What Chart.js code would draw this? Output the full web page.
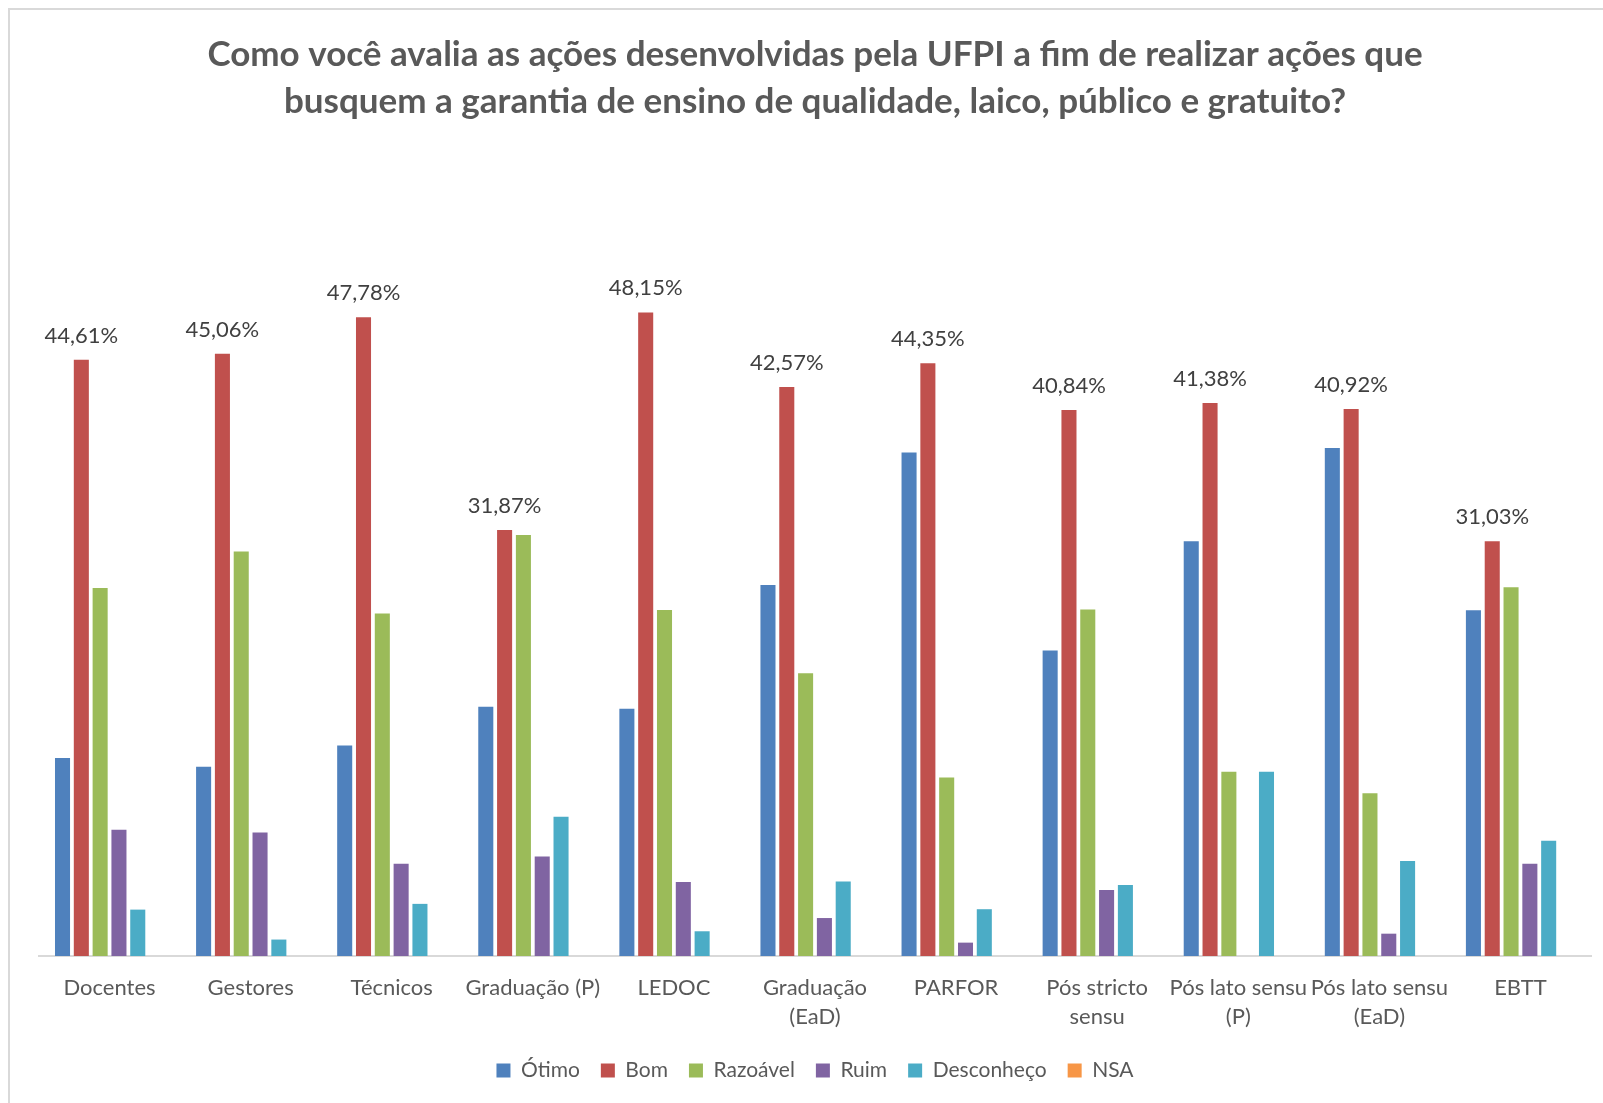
<!DOCTYPE html>
<html>
<head>
<meta charset="utf-8">
<script src="https://cdn.jsdelivr.net/npm/chart.js@4"></script>
<style>
  html, body { margin: 0; padding: 0; background: #ffffff; }
  #wrap { width: 1603px; height: 1103px; position: relative; }
  canvas { display: block; }
</style>
</head>
<body>
<div id="wrap"><canvas id="c" width="1603" height="1103"></canvas></div>
<script>
const titleLines = [
  'Como você avalia as ações desenvolvidas pela UFPI a fim de realizar ações que',
  'busquem a garantia de ensino de qualidade, laico, público e gratuito?'
];
const categories = [
  'Docentes', 'Gestores', 'Técnicos', 'Graduação (P)', 'LEDOC',
  ['Graduação', '(EaD)'], 'PARFOR', ['Pós stricto', 'sensu'],
  ['Pós lato sensu', '(P)'], ['Pós lato sensu', '(EaD)'], 'EBTT'
];
const seriesNames = ['Ótimo', 'Bom', 'Razoável', 'Ruim', 'Desconheço', 'NSA'];
const otimo      = [14.81, 14.15, 15.75, 18.65, 18.49, 27.76, 37.67, 22.86, 31.03, 38.00, 25.86];
const bom        = [44.61, 45.06, 47.78, 31.87, 48.15, 42.57, 44.35, 40.84, 41.38, 40.92, 31.03];
const razoavel   = [27.53, 30.26, 25.63, 31.50, 25.89, 21.15, 13.35, 25.93, 13.79, 12.18, 27.59];
const ruim       = [9.44, 9.24, 6.91, 7.44, 5.54, 2.84, 1.00, 4.94, 0, 1.67, 6.90];
const desconheco = [3.47, 1.23, 3.90, 10.41, 1.85, 5.57, 3.50, 5.31, 13.79, 7.11, 8.62];
const nsa        = [0, 0, 0, 0, 0, 0, 0, 0, 0, 0, 0];
const colors = ['#4F81BD', '#C0504D', '#9BBB59', '#8064A2', '#4BACC6', '#F79646'];
const allSeries = [otimo, bom, razoavel, ruim, desconheco, nsa];

const PAD_BOTTOM = 12;
const PLOT_BOTTOM = 956;

const frame = {
  id: 'frame',
  beforeDraw(chart) {
    const ctx = chart.ctx;
    ctx.save();
    ctx.fillStyle = '#ffffff';
    ctx.fillRect(0, 0, chart.width, chart.height);
    ctx.strokeStyle = '#d9d9d9';
    ctx.lineWidth = 2;
    ctx.strokeRect(9, 9, chart.width + 20, chart.height + 20);
    ctx.restore();
  }
};

const bomLabels = {
  id: 'bomLabels',
  afterDatasetsDraw(chart) {
    const ctx = chart.ctx;
    const meta = chart.getDatasetMeta(1);
    ctx.save();
    ctx.font = '22px Lato';
    ctx.fillStyle = '#404040';
    ctx.textAlign = 'center';
    ctx.textBaseline = 'alphabetic';
    meta.data.forEach((bar, i) => {
      const txt = bom[i].toFixed(2).replace('.', ',') + '%';
      ctx.fillText(txt, bar.x, bar.y - 17);
    });
    ctx.restore();
  }
};

new Chart(document.getElementById('c'), {
  type: 'bar',
  data: {
    labels: categories,
    datasets: allSeries.map((d, i) => ({
      label: seriesNames[i],
      data: d,
      backgroundColor: colors[i],
      borderWidth: 0,
      categoryPercentage: 0.8,
      barPercentage: 0.8
    }))
  },
  options: {
    responsive: false,
    devicePixelRatio: 1,
    animation: false,
    layout: { padding: { left: 39, right: 12, top: 0, bottom: PAD_BOTTOM } },
    plugins: {
      title: {
        display: true,
        text: titleLines,
        color: '#595959',
        font: { family: 'Lato', size: 35, weight: 'bold', lineHeight: 1.32 },
        padding: { top: 32, bottom: 29.6 }
      },
      legend: {
        position: 'bottom',
        labels: {
          color: '#595959',
          font: { family: 'Lato', size: 21 },
          boxWidth: 14,
          boxHeight: 14,
          padding: 21
        }
      },
      tooltip: { enabled: false }
    },
    scales: {
      x: {
        grid: { display: false, drawTicks: false },
        border: { display: true, color: '#d9d9d9', width: 2 },
        ticks: {
          color: '#595959',
          font: { family: 'Lato', size: 22, lineHeight: 1.3 },
          padding: 18,
          maxRotation: 0,
          minRotation: 0,
          autoSkip: false
        },
        afterFit(scale) {
          const c = scale.chart;
          const lh = c.legend ? c.legend.height : 0;
          scale.height = c.height - PAD_BOTTOM - lh - PLOT_BOTTOM;
        }
      },
      y: {
        display: false,
        min: 0,
        max: 60
      }
    }
  },
  plugins: [frame, bomLabels]
});
</script>
</body>
</html>
